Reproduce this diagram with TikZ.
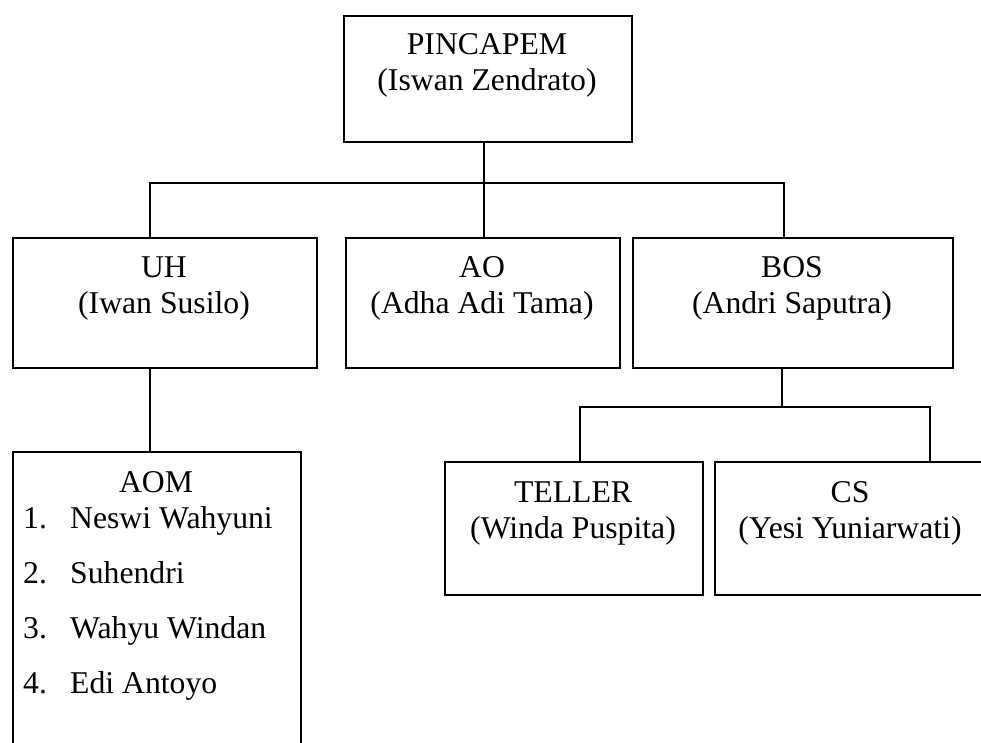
\documentclass[tikz,border=0pt]{standalone}
\usepackage{fontspec}
\setmainfont{Liberation Serif}
\begin{document}
\begin{tikzpicture}[x=1pt,y=-1pt,
  box/.style={draw, line width=1.6pt, inner sep=0pt, anchor=north west},
  conn/.style={line width=1.6pt},
  txt/.style={anchor=base, inner sep=0pt, font=\fontsize{31.7}{36}\selectfont},
  ltxt/.style={anchor=base west, inner sep=0pt, font=\fontsize{31.7}{36}\selectfont}]
\useasboundingbox (0,0) rectangle (981,743);
% boxes
\node[box, minimum width=288pt, minimum height=126pt] (pin) at (343,15) {};
\node[box, minimum width=304pt, minimum height=130pt] (uh) at (12,237) {};
\node[box, minimum width=274pt, minimum height=130pt] (ao) at (345,237) {};
\node[box, minimum width=320pt, minimum height=130pt] (bos) at (632,237) {};
\node[box, minimum width=288pt, minimum height=330pt] (aom) at (12,451) {};
\node[box, minimum width=258pt, minimum height=133pt] (tel) at (444,461) {};
\node[box, minimum width=272pt, minimum height=133pt] (cs) at (714,461) {};
% texts
\node[txt] (pin1) at (487,55) {PINCAPEM};
\node[txt] (pin2) at (487,91) {(Iswan Zendrato)};
\node[txt] (uh1) at (164,277) {UH};
\node[txt] (uh2) at (164,313) {(Iwan Susilo)};
\node[txt] (ao1) at (482,277) {AO};
\node[txt] (ao2) at (482,313) {(Adha Adi Tama)};
\node[txt] (bos1) at (792,277) {BOS};
\node[txt] (bos2) at (792,313) {(Andri Saputra)};
\node[txt] (tel1) at (573,502) {TELLER};
\node[txt] (tel2) at (573,538) {(Winda Puspita)};
\node[txt] (cs1) at (850,502) {CS};
\node[txt] (cs2) at (850,538) {(Yesi Yuniarwati)};
\node[txt] (aom0) at (156,492) {AOM};
\node[ltxt] (n1) at (23,528) {1.};
\node[ltxt] (m1) at (70,528) {Neswi Wahyuni};
\node[ltxt] (n2) at (23,583) {2.};
\node[ltxt] (m2) at (70,583) {Suhendri};
\node[ltxt] (n3) at (23,638) {3.};
\node[ltxt] (m3) at (70,638) {Wahyu Windan};
\node[ltxt] (n4) at (23,693) {4.};
\node[ltxt] (m4) at (70,693) {Edi Antoyo};
% connectors
\coordinate (j0) at (484,183);
\coordinate (bl) at (150,183);
\coordinate (br) at (784,183);
\coordinate (j1) at (782,407);
\coordinate (tl) at (580,407);
\coordinate (tr) at (930,407);
\draw[conn] (pin.south -| j0) -- (ao.north -| j0);
\draw[conn] (uh.north -| bl) -- (bl) -- (br) -- (bos.north -| br);
\draw[conn] (uh.south -| bl) -- (aom.north -| bl);
\draw[conn] (bos.south -| j1) -- (j1);
\draw[conn] (tel.north -| tl) -- (tl) -- (tr) -- (cs.north -| tr);
\end{tikzpicture}
\end{document}
